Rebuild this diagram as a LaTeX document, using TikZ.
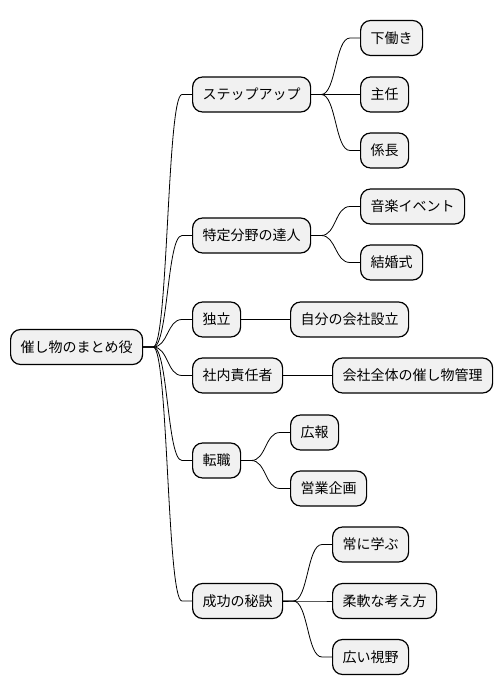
\documentclass[tikz,border=0pt]{standalone}
\usepackage{fontspec}
\newfontfamily\jpfont{Noto Sans CJK JP}
\definecolor{boxfill}{HTML}{F1F1F1}
\begin{document}
\begin{tikzpicture}[x=1pt,y=-1pt,
    topic/.style={draw, line width=1.2pt, fill=boxfill, rounded corners=10pt,
        minimum height=35pt, inner xsep=10pt, inner ysep=0pt, anchor=west,
        font=\jpfont\fontsize{14}{16}\selectfont},
    branch/.style={line width=0.8pt, to path={(\tikztostart) -- ++(10,0)
        .. controls +(15,0) and +(-15,0) .. ([xshift=-10pt]\tikztotarget) -- (\tikztotarget)}}]
    \useasboundingbox (0,0) rectangle (502,696);
    % root
    \node[topic] (root) at (10,347) {催し物のまとめ役};
    % first level
    \node[topic] (step) at (192,94.5) {ステップアップ};
    \node[topic] (expert) at (192,235.5) {特定分野の達人};
    \node[topic] (indep) at (192,319.5) {独立};
    \node[topic] (inhouse) at (192,375.5) {社内責任者};
    \node[topic] (change) at (192,460.5) {転職};
    \node[topic] (secret) at (192,601) {成功の秘訣};
    % second level
    \node[topic] (helper) at (360,38) {下働き};
    \node[topic] (chief) at (360,94.5) {主任};
    \node[topic] (manager) at (360,150.5) {係長};
    \node[topic] (music) at (360,206.5) {音楽イベント};
    \node[topic] (wedding) at (360,262.5) {結婚式};
    \node[topic] (company) at (290,319.5) {自分の会社設立};
    \node[topic] (events) at (332,375.5) {会社全体の催し物管理};
    \node[topic] (pr) at (290,432.5) {広報};
    \node[topic] (sales) at (290,488.5) {営業企画};
    \node[topic] (learn) at (332,544.5) {常に学ぶ};
    \node[topic] (flex) at (332,601) {柔軟な考え方};
    \node[topic] (view) at (332,657) {広い視野};
    % connectors
    \foreach \a/\b in {root/step, root/expert, root/indep, root/inhouse, root/change, root/secret,
        step/helper, step/chief, step/manager, expert/music, expert/wedding,
        indep/company, inhouse/events, change/pr, change/sales,
        secret/learn, secret/flex, secret/view}
        \draw[branch] (\a.east) to (\b.west);
\end{tikzpicture}
\end{document}
